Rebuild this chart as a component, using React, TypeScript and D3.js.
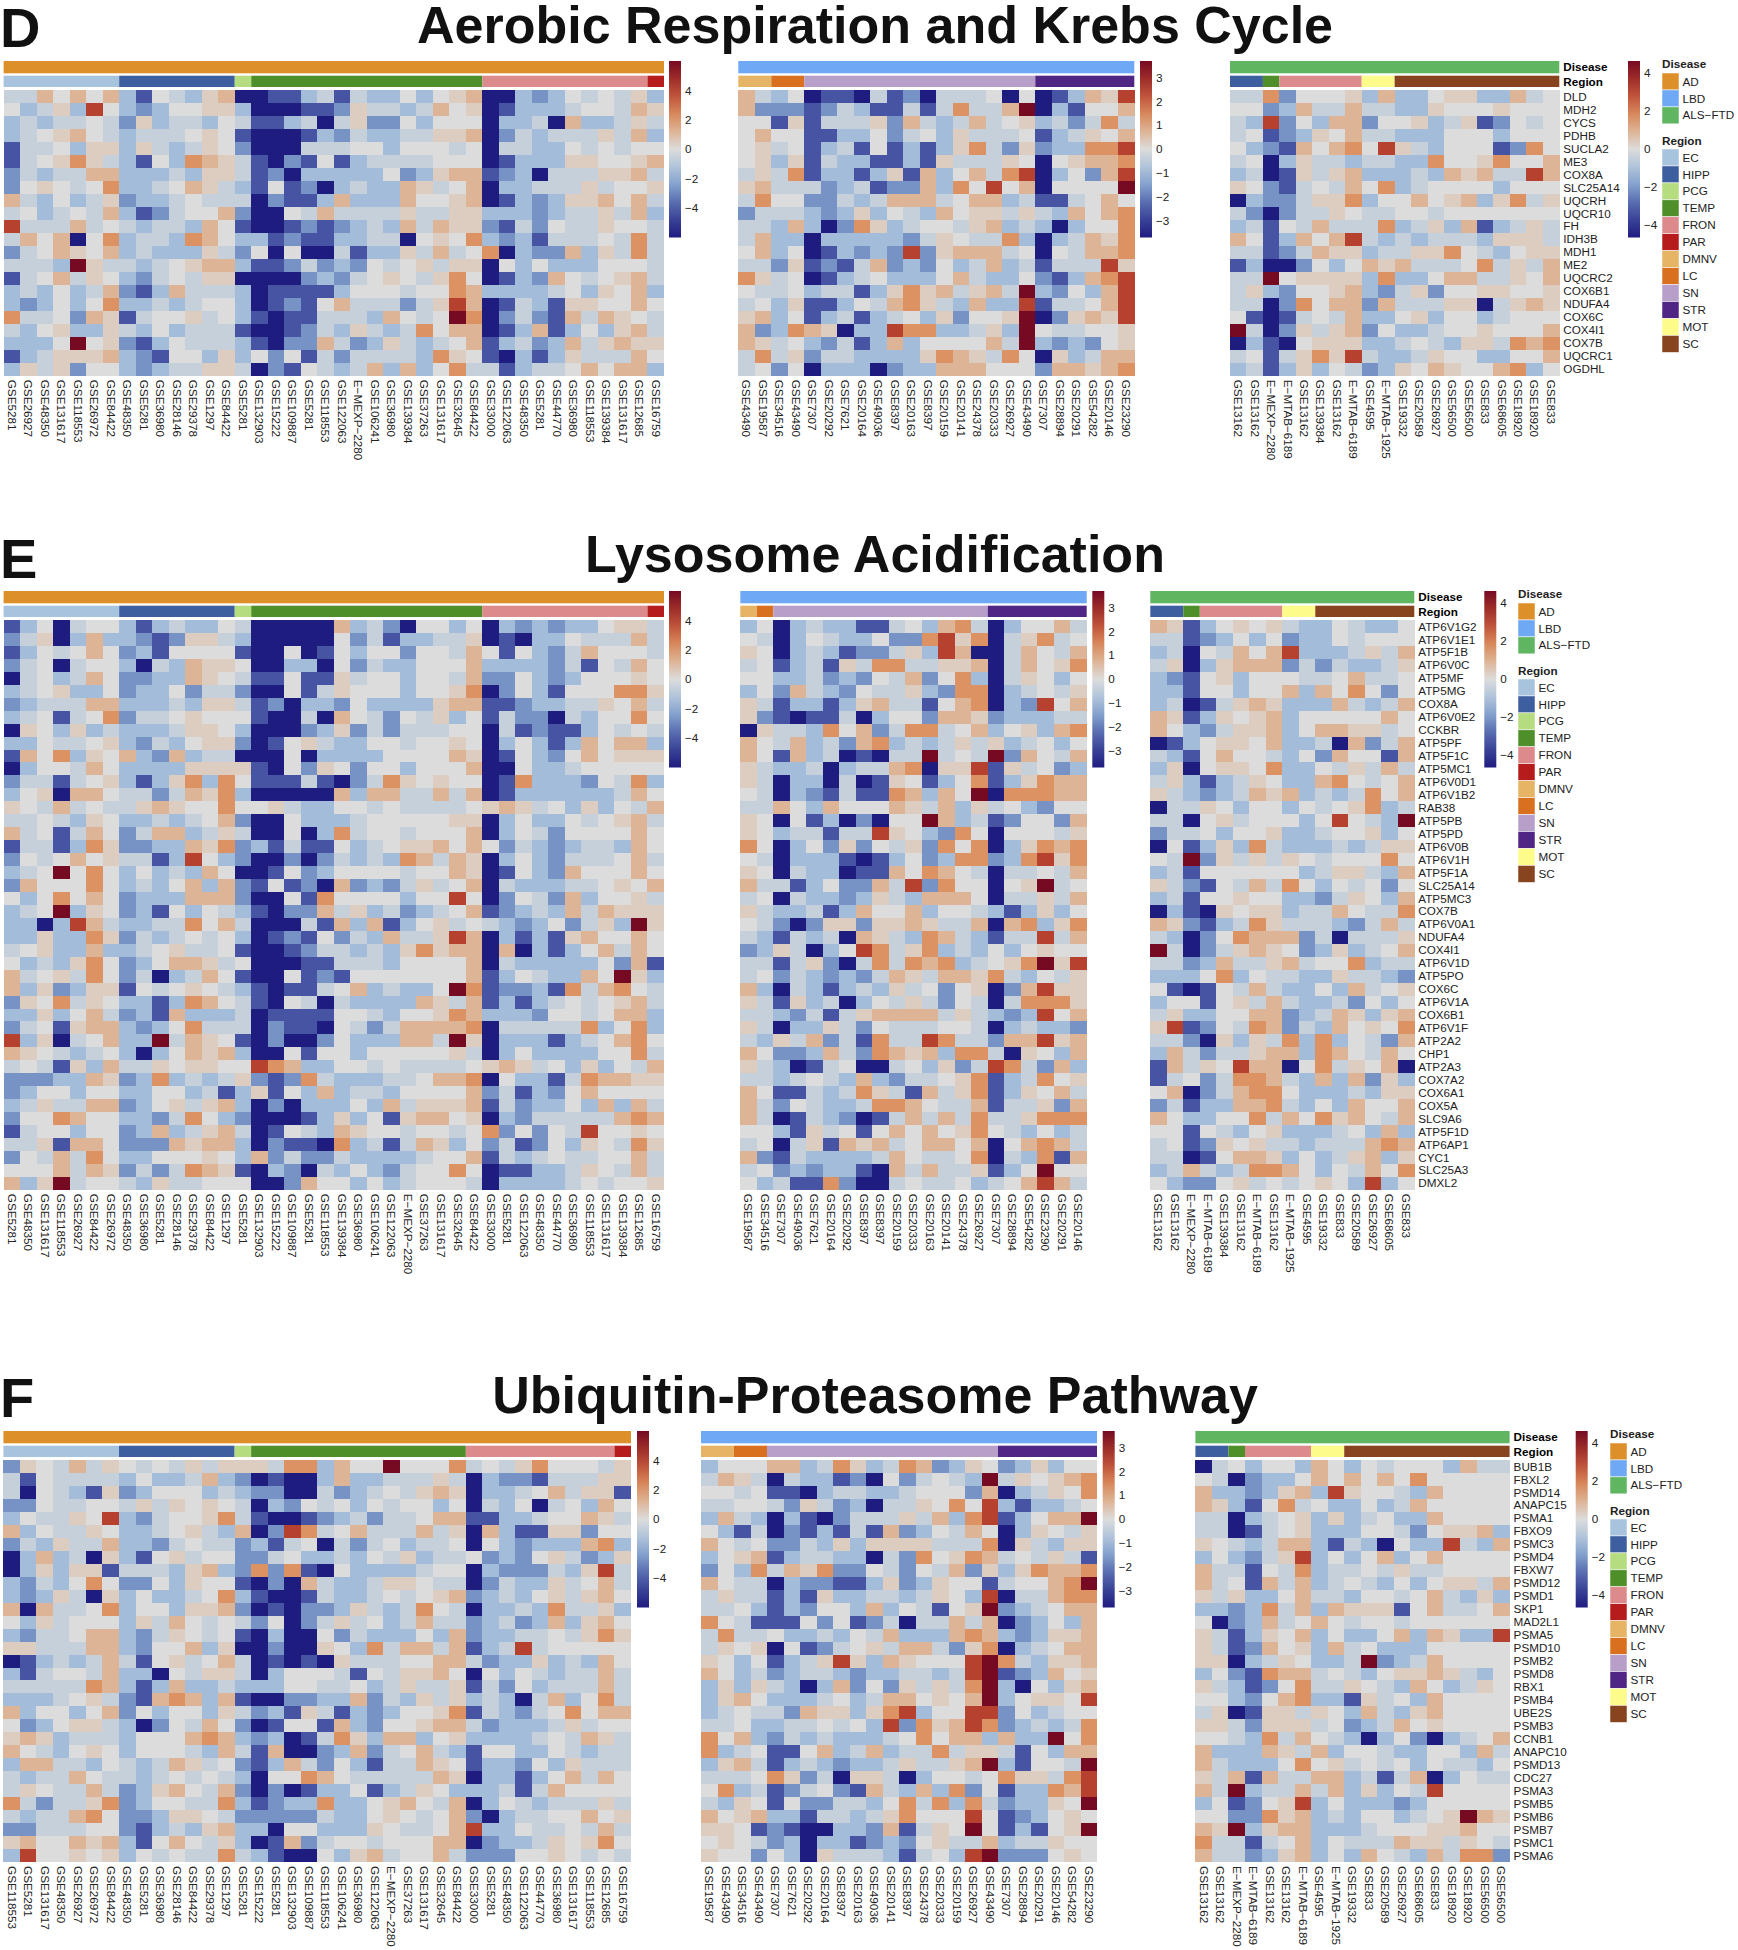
import React from "react";
import * as d3 from "d3";

// colour levels, a (deep navy) .. f (grey) .. k (dark red), as a share of the panel's max
const levelShare: Record<string, number> = { a: -1, b: -0.7, c: -0.46, d: -0.26, e: -0.1, f: 0, g: 0.08, h: 0.2, i: 0.36, j: 0.68, k: 1 };

const diseaseColors: Record<string, string> = { AD: "#dd9029", LBD: "#6fa8f5", "ALS\u2212FTD": "#5fb560" };
const regionColors: Record<string, string> = {
  EC: "#a8c3dd", HIPP: "#3d5f9f", PCG: "#b5dc7f", TEMP: "#4f8f2a", FRON: "#dd8a8c", PAR: "#b71c1c",
  DMNV: "#e5b565", LC: "#d9701f", SN: "#b79fca", STR: "#4f2683", MOT: "#fdfb8a", SC: "#87441f",
};

const genesD = ["DLD","MDH2","CYCS","PDHB","SUCLA2","ME3","COX8A","SLC25A14","UQCRH","UQCR10","FH","IDH3B","MDH1","ME2","UQCRC2","COX6B1","NDUFA4","COX6C","COX4I1","COX7B","UQCRC1","OGDHL"];
const genesE = ["ATP6V1G2","ATP6V1E1","ATP5F1B","ATP6V0C","ATP5MF","ATP5MG","COX8A","ATP6V0E2","CCKBR","ATP5PF","ATP5F1C","ATP5MC1","ATP6V0D1","ATP6V1B2","RAB38","ATP5PB","ATP5PD","ATP6V0B","ATP6V1H","ATP5F1A","SLC25A14","ATP5MC3","COX7B","ATP6V0A1","NDUFA4","COX4I1","ATP6V1D","ATP5PO","COX6C","ATP6V1A","COX6B1","ATP6V1F","ATP2A2","CHP1","ATP2A3","COX7A2","COX6A1","COX5A","SLC9A6","ATP5F1D","ATP6AP1","CYC1","SLC25A3","DMXL2"];
const genesF = ["BUB1B","FBXL2","PSMD14","ANAPC15","PSMA1","FBXO9","PSMC3","PSMD4","FBXW7","PSMD12","PSMD1","SKP1","MAD2L1","PSMA5","PSMD10","PSMB2","PSMD8","RBX1","PSMB4","UBE2S","PSMB3","CCNB1","ANAPC10","PSMD13","CDC27","PSMA3","PSMB5","PSMB6","PSMB7","PSMC1","PSMA6"];

const colsDL = "GSE5281 GSE26927 GSE48350 GSE131617 GSE118553 GSE26972 GSE84422 GSE48350 GSE5281 GSE36980 GSE28146 GSE29378 GSE1297 GSE84422 GSE5281 GSE132903 GSE15222 GSE109887 GSE5281 GSE118553 GSE122063 E\u2212MEXP\u22122280 GSE106241 GSE36980 GSE139384 GSE37263 GSE131617 GSE32645 GSE84422 GSE33000 GSE122063 GSE48350 GSE5281 GSE44770 GSE36980 GSE118553 GSE139384 GSE131617 GSE12685 GSE16759".split(" ");
const colsDM = "GSE43490 GSE19587 GSE34516 GSE43490 GSE7307 GSE20292 GSE7621 GSE20164 GSE49036 GSE8397 GSE20163 GSE8397 GSE20159 GSE20141 GSE24378 GSE20333 GSE26927 GSE43490 GSE7307 GSE28894 GSE20291 GSE54282 GSE20146 GSE23290".split(" ");
const colsDR = "GSE13162 GSE13162 E\u2212MEXP\u22122280 E\u2212MTAB\u22126189 GSE13162 GSE139384 GSE13162 E\u2212MTAB\u22126189 GSE4595 E\u2212MTAB\u22121925 GSE19332 GSE20589 GSE26927 GSE56500 GSE56500 GSE833 GSE68605 GSE18920 GSE18920 GSE833".split(" ");
const colsEL = "GSE5281 GSE48350 GSE131617 GSE118553 GSE26927 GSE84422 GSE26972 GSE48350 GSE36980 GSE5281 GSE28146 GSE29378 GSE84422 GSE1297 GSE5281 GSE132903 GSE15222 GSE109887 GSE5281 GSE118553 GSE139384 GSE36980 GSE106241 GSE122063 E\u2212MEXP\u22122280 GSE37263 GSE131617 GSE32645 GSE84422 GSE33000 GSE5281 GSE122063 GSE48350 GSE44770 GSE36980 GSE118553 GSE131617 GSE139384 GSE12685 GSE16759".split(" ");
const colsEM = "GSE19587 GSE34516 GSE7307 GSE49036 GSE7621 GSE20164 GSE20292 GSE8397 GSE8397 GSE20159 GSE20333 GSE20163 GSE20141 GSE24378 GSE26927 GSE7307 GSE28894 GSE54282 GSE23290 GSE20291 GSE20146".split(" ");
const colsER = "GSE13162 GSE13162 E\u2212MEXP\u22122280 E\u2212MTAB\u22126189 GSE139384 GSE13162 E\u2212MTAB\u22126189 GSE13162 E\u2212MTAB\u22121925 GSE4595 GSE19332 GSE833 GSE20589 GSE26927 GSE68605 GSE833".split(" ");
const colsFL = "GSE118553 GSE5281 GSE131617 GSE48350 GSE26927 GSE26972 GSE84422 GSE48350 GSE5281 GSE36980 GSE28146 GSE84422 GSE29378 GSE1297 GSE5281 GSE15222 GSE5281 GSE132903 GSE109887 GSE118553 GSE106241 GSE36980 GSE122063 E\u2212MEXP\u22122280 GSE37263 GSE131617 GSE32645 GSE84422 GSE33000 GSE5281 GSE48350 GSE122063 GSE44770 GSE36980 GSE131617 GSE118553 GSE12685 GSE16759".split(" ");
const colsFM = "GSE19587 GSE43490 GSE34516 GSE43490 GSE7307 GSE7621 GSE20292 GSE20164 GSE8397 GSE20163 GSE49036 GSE20141 GSE8397 GSE24378 GSE20333 GSE20159 GSE26927 GSE43490 GSE7307 GSE28894 GSE20291 GSE20146 GSE54282 GSE23290".split(" ");
const colsFR = "GSE13162 GSE13162 E\u2212MEXP\u22122280 E\u2212MTAB\u22126189 GSE13162 GSE13162 E\u2212MTAB\u22126189 GSE4595 E\u2212MTAB\u22121925 GSE19332 GSE833 GSE20589 GSE26927 GSE68605 GSE833 GSE18920 GSE18920 GSE56500 GSE56500".split(" ");

const runsDEL: [string, number][] = [["EC",7],["HIPP",7],["PCG",1],["TEMP",14],["FRON",10],["PAR",1]];
const runsFL: [string, number][] = [["EC",7],["HIPP",7],["PCG",1],["TEMP",13],["FRON",9],["PAR",1]];
const runsDFM: [string, number][] = [["DMNV",2],["LC",2],["SN",14],["STR",6]];
const runsEM: [string, number][] = [["DMNV",1],["LC",1],["SN",13],["STR",6]];
const runsDR: [string, number][] = [["HIPP",2],["TEMP",1],["FRON",5],["MOT",2],["SC",10]];
const runsER: [string, number][] = [["HIPP",2],["TEMP",1],["FRON",5],["MOT",2],["SC",6]];
const runsFR: [string, number][] = [["HIPP",2],["TEMP",1],["FRON",4],["MOT",2],["SC",10]];

const ticksWide = [4, 2, 0, -2, -4];
const ticksMid = [3, 2, 1, 0, -1, -2, -3];

// one string per gene, one letter per dataset; spaces only split the region groups
const cellsDL = [
"eehfhfh dbfedgh a abbdebeddfdfgh aadcdfefeg d",
"fdegdjf dcdffgg d aaabbcgeedehfg abdddeffeh g",
"dedeefe cgdeedf e bbdeaegccfdfff addeahddeg e",
"defghfe deeefgf b aaabdceddeeggh acedeeegeh d",
"beefdgg dgedegf c aaaeeeffdfffef aeeddfefef f",
"befgige dbfdihg e bacbfbdeeeefff abdddggffg h",
"cedeehh dddedgg e bcadddddfcdghh bcdaeeeggh e",
"cfgfefi ddefhge d bfbcadeddhgefh addeeegeff g",
"hedfdeg cddefee e acbbdhdddhffgh abdcdgghfh e",
"efdefeh dbceffh c aafeheeeegeegg dddcdeegeh d",
"jeeehef edeedhf b aabcbcdedhehgg cbecfeegff e",
"ehfhafi deedihf d dbcbbddeeafgfi dcdbeeefei e",
"cefhgfh dedddge c fafaaebddgehef iadcchdgei e",
"eeedkge edefghh d bbcecdcfefgegg afdfdddfff e",
"befhegf dcefegg a aaacdcefgfegif abdchfefgh e",
"dedfdeh cbdheee d abbbbdfffeffih ddddefdgfh d",
"dcdfdfi ddedeff d abcbfheeecegjh abedbggffh f",
"ieefchg beffgef d babbeeedhfefki acecbhehgf e",
"edfgddg edfdeee b aabcedgedeifhh abdhbdfdgh e",
"dddfkfg cbdfeee d bacchecdgedefh bdecdheghg g",
"bdegggh dcbffdg d fcfbeceeeedigf badbdgeeeh f",
"dgegcff dcdeegg e acbfedehdhdfie ebdeefhfhh d",
];
const cellsDM = [
"hedf abbaebcaeeefaf abdhgj",
"hccc bcedbbebeieehk adbffh",
"ffbg beeegchedehefg deceie",
"fhff bbddfcefdgeeef bdegfh",
"fgef bdebfbdbdgiecg cddiij",
"fgdg beddbbdbgeeegf afghhi",
"egei bddbdgbhdfheij adfchj",
"ghee ecdebcchdifjfh affffk",
"eiff ccedehhhefhhde bbefhf",
"ceee dcdgdfedhfggeg edhfhi",
"eedh dacigdeffeghde dadffi",
"ehdd adddddcegfeeid adehgi",
"fhdf abdcdcjcghhhef afehhi",
"eecg bcbehcdcfdehde beeejg",
"igef abdefdddfheddf cbdhij",
"feef deebdgigheghek dcfdhj",
"efdg bbdfehigedhddj beefhj",
"ghdf bdebdefdgcffgk acghgj",
"hcdi hgaddjiiddegdk feeffg",
"hgef dcebdhdffffhek dcdcfg",
"eieg ceeddddgihgeif agdehh",
"efcf adddacddhhhfff chhghi",
];
const cellsDR = [
"ee i cfffg dh ddfggddhef",
"ff c dheeh ee ddgfffgfff",
"ed j cfdhh cf fgdegbcfef",
"ef b cdgfh ee dddfffdfff",
"fd c bhfhi fj gedfffbcif",
"ef a dgeed ee ddiffgiffh",
"de a bgegh dd dedhgheejh",
"gf c befeh fi deffffdfff",
"ad c ceggi df fhfghdgieg",
"ec a ceegf ee ffefffffff",
"de b fehee ei degdhbdege",
"hf b dhfhj ed edeeedggge",
"ee b cehgg de eggifedfgg",
"bd a acfdf hg heeefiegeh",
"ee k fgggg di ddfhheegfh",
"eg d cffgh dc egcffggffg",
"ee a cifhh ch eeeggaeghg",
"fb a befeh dd fgdffdefff",
"ke a cgegh cf ddeffgfffh",
"ad b afggg dd efedggeihi",
"ef b egigj ed degffddffh",
"de b dgdfe cd gfhgffhidf",
];
const cellsEL = [
"bdfaeff dbdeddf e aaaaahdecaffdf adcdcddfgg e",
"cegadhd dcbcgge d aaaaafcebddeeg abaddfeeeh e",
"bdfefhf cdbffff b aafabfdffcffeh fbfdcehfff e",
"cefaeff daedhgg f aaddafceddfffh ddddcebfeh f",
"aefdehf ccddhgf e bbfbbgeffdffeh ccfdcdfffg f",
"defgddf cddfcee c aafbegfffdffgi acfdbfffii g",
"cdeeehh dddedgg e bcaddcfddddghh bbcddeegfh e",
"defbefi ceefgff f baaeahfecfegdf beccaedffi f",
"agfdgde dddeggf d aaacdgceceeeff aebcbbdfef e",
"ddfeefg dcedfgg c abfgeddffeffgf adfdbdhfhh d",
"bhfidgf hdchdee a aafaddddffffhg abfdcfhfgg g",
"adffehf ddddggg g bafcgfcffdfffh aafddeffff f",
"ceebefg dbdgidi f bbbebaceigfgff abidddcfei d",
"dfgahhf eecehgi d aaaaahdhheeheh abddddddeh f",
"gfehefe eghgffi f fgeddffefeeeef ghgefdgdfe h",
"eefedgf ddedefh c aafdddefffffgg adfddfefgh e",
"hefbehf cehhdeg e aafadieffefffh adfecffffh f",
"beebdig ccddhgi c dbebbfdefgghfh fcedcdeedh f",
"cfefhfg eebdjfd c aacacededihehg adfdceeefh e",
"defkfif dfdedhf a abfcdffffeffhg abfdchfffh f",
"chfffif dedfhdh c bfbcahcdcegefh aedddeefgf h",
"fdfifhf cdddhhh c aafbiffffdffjf acfechdffg e",
"defkdgf cdbfdfe d bacchegdecdefh bcdedhehgg g",
"ddadjhe ddeeifh e aaaebhdhbdfgef edcdfcegdk g",
"ddgddig cedefef d abcbfcedheegjh adbdbghffh f",
"efgddhd defgeef b aabceededgighh ahadbdfheh f",
"fdedgif cdfhhge f aaabbeeedffffh aedddddfch b",
"hefgeif ceadehf b aafbcbfffffffh bdfeddhfkg d",
"hdgcdgg bfefgfe d babbefhdeddfki bccdbiehif e",
"cgfiegf ddbdihf e bafeaeddddhgeh bdbdefefgh e",
"ddgdfhe cdbhddd e abbbbffedffgih dddcffefhh d",
"cefbghh dcdfiee e acbbafecehhhhi aeeeeeidfi d",
"jdgaefh ddkehgf b acaacfdddhhekg adddbdefhi f",
"hgfedef dadfhgh d aafbffdfffffge adfddddffi e",
"efebgdh eegfggf f jihddffefeeeef ghgefdgdfe h",
"cccddhg cdidede g cbciedddeefhhi afddbeihhg g",
"cdffdff ddffdeb d gbfdhdeedffffh cebdcfhfff f",
"degeehh cdfgegh d acadddfdhegggh becddfdhdh e",
"cffihff ddceifd c aaabdgdfbghhfg adceeeeehi h",
"beffdff cdhdegh e abfedhgffeffef icfcfejffg f",
"eegbhhf ccchghh d acbbaidebehgdf cebcfdgfei g",
"cfeheif ddfffgf d hceccedddd effh bedefeeffh e",
"fffhehg ceceihg b adcaedfdceffif abbddegfeh e",
"hdgkeff edgeeff f aachffdfdefffe addddefeff g",
];
const cellsEM = [
"df adeddbbefdhie adffhe",
"fe adfeddfccijgi aegief",
"gf adedbccegdjha aehfeh",
"ef bdebgeiieeggh aehfgi",
"ff ddecdcfehcfid aegfdf",
"df chedcfeegdcii adefeg",
"ge bddbdgheebfhi adcjfh",
"gc babbeadffchhg cdddee",
"ag eedifhceiiefh dfgdhi",
"hf ehdechidedege gdefdf",
"hf bhdeabaeekefe kchfeh",
"ge ddeadeehiaggj bgefcd",
"ge addaeabgfbdfi bdgihh",
"fe adcbebbihdhfk aiiihh",
"ee hfdhfffhgehdg efdcff",
"gf afbdacaffkhde bcffch",
"gf deebeejgfdcif afffeg",
"if adfcgcfegcifi adgihi",
"fe adddbabdfcdii cdijgi",
"gf aeddabbhfihfe aeefeh",
"he ebdfcchejciff afgkef",
"ef aeddcdgedhhhf aeegeh",
"ge ddebdhffhdffe dbdgdf",
"fe cacggcgghgeeh ahidgi",
"ed bedeahgedihed beejeh",
"cd geadfjiegided fdfgff",
"ee begcaeieihide fgikgj",
"ef cedcdcehgehhg iedfeg",
"hd aedbdedgefcfg achjgg",
"ge bgdeadfegecfe aeiiig",
"ee dcebeghhhhege dcdjfh",
"ge addgecfeeeffe adeddc",
"ed gehcebieejiee chhjgh",
"hf ccdhecihghdii eagfdh",
"ge dabefaaefdgce jiechd",
"ee defedhdceefgi bdeifg",
"hf bbedeigebhegi bdgfhe",
"he cfeddeiihfeeh beegch",
"he abedcabehehei eegiii",
"ff dbgefbfhfhfgi fedfde",
"ef aegbhghefhhfh afhihe",
"hc beddddehfeefi aedibh",
"ef cdcddbaheheeg bdfkff",
"fd ebbicaaefeefd efhjhe",
];
const cellsER = [
"hg b dfgfg ed dfeddf",
"ee b cdfdf cd dfefff",
"de a fehfh jd ddegeh",
"eg a dghhh ce ceddeg",
"dc b fgdff fe efheef",
"dd b ffdff hd hfifcf",
"de a begh g dd dhedeh",
"hg b dgfgh df ffffhf",
"hf d ceggh df hhggef",
"ab d fggfh dd eahceh",
"ed b fhffe df chffbh",
"dg a fggfi dd fegehe",
"eg d bdegf dd hifefh",
"ge d cdehg hd edeifh",
"ae e gfdff df efgide",
"ee a fgeff fd fjfedk",
"ce e fdffg dd effgdf",
"af b dgdie dd dedegg",
"fe k cgege gf efffif",
"de b fffff fd eggedh",
"ge c bfehe if dfefcf",
"de b ffgff dd cegfdh",
"ad b agfgg de ehfeei",
"hg c bdeig ee edcehe",
"ed a cfihh hc eaeeeg",
"ke a ceghg fc dgdefh",
"ee c dheeg he ffidee",
"dd d fidfe ed dgeedc",
"fb a bfehe dd fdhefg",
"df f bfgeh ed decfdf",
"eg d dffhh cd ehgdgh",
"gj b cfeih ce dhfgfi",
"ee c agdge id idfech",
"dh e ceegh hd ihfehf",
"bh e gfjhh af iegfha",
"be f ceiih ed hdhcgd",
"fh a cehii fd ddedgg",
"ce b ddhhi ed fdhffh",
"hf d dffie hf ighfeh",
"ff b fedfg dd defdhd",
"ef b cgfge ed eeehih",
"ee a bfhhg df deghdg",
"de h edeii hf dfehfi",
"fd c cfgef ef gfdjdf",
];
const cellsFL = [
"cgfeheg fefegeg g geiidhffkfffi efegifffe g",
"ebfeeee dfddehd c abaadhddeeege adccbeeeg g",
"eafedbg cdfffde d ccaaecdefeghg addefhegg b",
"ccfeeff egegfgf e adcfefdfeffdf aedfaefdh f",
"dfeegfj dceffgi e baabcdeceefhh bbddeffhg e",
"hdfeegf ddefged h acjiefheeeheg ahdbbggcf f",
"cedgeeh ddcefee c dbefaecefdeef afdcdddhi d",
"adhdeag dbfgeff c cefddedfegdee fcdcfgecd g",
"adgdggb eeedghd c icibafddddeff adcccedgj e",
"dcedfif ccfdgff b acaheddeggfee aceddgefh e",
"dcdgeag dfddefi d baabeddefefgh cdedfgegh f",
"haheefi dffdggh c abaccdgedeife addedieeg d",
"fdgefff dgehfef e cfacegefdehee cdecdhdgh f",
"dceefhh dcegfef b adaafcedddfdh cddeefegi g",
"ggeeehh dcffhdg a acaagfdiehheh bdejeffff f",
"abdedeh ebfgefh e ababageeeffhh ecddgdedh f",
"dbeffeh ddafegg e adfffebfegghf afdfedeeh e",
"eeeeeih dbdhdde d ddffeefdegeeg becfdeeeh e",
"dddefge cbhihdh b aaccddhcedgeg dedaehdfi e",
"hdffdfh cfdffdg e cdbgebdcdffgi bedcefifh h",
"fcdfgge dacfehf c abffbhdcffghh ecdddegef f",
"ghgdeee dfffhih d cdabeigdhhdfg ddddefehg e",
"hfedfgf dfffedh e bhaacdhcefhed bffddfede e",
"dhheedf edehgef c bdhecfdbeehgf bddcfdgee e",
"edeehfe edefefe d affihfeeeeehg addbdfheh f",
"egfeehe cdghfeh c acabddfbdegfd ddebehfff f",
"ieceegi cdffeei d bcddiddfghfeh adfedeeeg e",
"edeehif ccdggfe c cccceddfgfefh cadeeffhf g",
"cceeeff cbdedgh d daffdddgfeefh jddfeefeh e",
"ghffhgh dbfhfeg d abhceffefffhh acddegfgi f",
"djffgfg dfefeei e dbaafdgheffhe cccffgfef e",
];
const cellsFM = [
"dfff hhdeigdeihcdgf cdgdff",
"ehge aeddbcafcefedk egfghi",
"ffef bbadeeddefffch adegfi",
"eeff ecgecdaeegfifj dbddef",
"dhed adbaceeegehdij bdfhhk",
"fdbe acbdbebhcdfehf adgfeg",
"hfef ccedgdggggeeei agedgg",
"dfgh bdeeddaecifgih efegeb",
"cfdi ehgiccfecfehcg dgihhi",
"hfee adccbbdgcdgffb effhik",
"egee bdbgddeedegfdj aeehii",
"eefd bdcffdhdfebfgk cdefhh",
"ifeb bbfcfbceaeeheh acdfdh",
"eiee fddedfehdddhih dcdggh",
"egfg afbcefgehhecgi adefhh",
"gfdf bdegjgdhgfffjk iedggh",
"hfde cdeedcddeedejk bcdhfg",
"dgdg edadhcfcgegeik dafdgh",
"dghf dddefdehhfgfhk dfggfj",
"defe echggdgijdffjj cfdeff",
"eefd deefefdjcighji cdedei",
"ifhd cededddefifhhd hddkfi",
"idef bbfhdehdeeiegg ebfdhh",
"dghe bdedcddegeeghk dbffek",
"eeef igceaggeadffef iggeij",
"fide bcefcbhedhdicf bddihj",
"edgf bfcceedfieidie cddgfk",
"hfgh ddbeedegifffjf bcdfgf",
"ggfb cbaaddchbegfkf bdbfgk",
"fgfe cdaddbcdcfgeeh deegff",
"gffc fdageeedbefdjk cccfgf",
];
const cellsFR = [
"ae f dffd hf dfefffdhee",
"fe a cddf hf hfhfifffff",
"hd d cdgh dj gffedhffff",
"hg d bfie fd dfdehfffff",
"ee a defg dg defddhffff",
"ee a befg dd dffecfgghd",
"gf e dehh db edafddjedh",
"df d cegj df dfhdfhffff",
"he e bfei de efegeeffff",
"he f bheh de fedfdfggeh",
"ge g ddfh ee dffefhedgd",
"dd c dieh dh gggbfheefh",
"fa c dhef hf effeffffff",
"ge b dgfh df ddfhdhgddj",
"ge b chfg dh efdddfffff",
"gg a degf dd ekcdehffff",
"df c bihh ef edfgghgedf",
"ge d bcfi ee gfedhfdegf",
"ff d cfhi dd bgefdhffff",
"eg a bgge gf dhedghffff",
"gg e cggg ef cdehfgffff",
"ff e dieh fe dadfcadefh",
"hd d dhge hd ffeddffdhe",
"he d ddfi fg efefdfeedf",
"ge h bhee hh debehadfee",
"he k deeh eh dgdfejffff",
"df b cfgj df dddcdfffff",
"ff c cigh de dffdefgkhg",
"hg k dghh dd defffgghff",
"ie e befh df eeehggegfe",
"he e cdgh df dhfedheiic",
];

type HeatProps = {
  rows: string[]; cols: string[]; runs: [string, number][]; disease: string;
  left: number; right: number; top: number; rowPx: number; maxValue: number; ticks: number[];
  barLeft: number; genes?: string[]; id: string;
};

const BAR_HEIGHT = 176.5;

const colorOf = d3.scaleLinear<string>()
  .domain([-1, -0.67, -0.33, 0, 0.33, 0.67, 1])
  .range(["#1f1c80", "#4a5aa6", "#93b4d8", "#dcdcdc", "#e09a68", "#b8432f", "#760a22"]);

const Heatmap = ({ rows, cols, runs, disease, left, right, top, rowPx, maxValue, ticks, barLeft, genes, id }: HeatProps) => {
  const heatTop = top + 29;
  const x = d3.scaleBand<number>().domain(d3.range(cols.length)).range([left, right]);
  const y = d3.scaleBand<number>().domain(d3.range(rows.length)).range([heatTop, heatTop + rowPx * rows.length]);
  const barY = d3.scaleLinear().domain([maxValue, -maxValue]).range([top, top + BAR_HEIGHT]);

  let start = 0;
  const strips = runs.map(([name, n]) => {
    const r = { name, x0: x(start)!, x1: x(start + n - 1)! + x.bandwidth() };
    start += n;
    return r;
  });

  return (
    <g>
      <rect x={left} y={top} width={right - left} height={12.3} fill={diseaseColors[disease]} />
      {strips.map((s, i) => (
        <rect key={i} x={s.x0} y={top + 14.7} width={s.x1 - s.x0} height={11.3} fill={regionColors[s.name]} />
      ))}
      <g shapeRendering="crispEdges">
        {rows.map((row, r) => {
          const codes = row.replace(/[^a-k]/g, "");
          return cols.map((_, c) => {
            const value = (levelShare[codes[c] ?? "f"] ?? 0) * maxValue;
            return <rect key={r + "-" + c} x={x(c)} y={y(r)} width={x.bandwidth() + 0.4} height={y.bandwidth() + 0.4} fill={colorOf(value / maxValue)} />;
          });
        })}
      </g>
      {cols.map((name, c) => (
        <text key={c} transform={`translate(${x(c)! + x.bandwidth() / 2},${heatTop + rowPx * rows.length + 4}) rotate(90)`} dy="0.35em" fontSize={11.7} fill="#222">{name}</text>
      ))}
      {genes && genes.map((g, r) => (
        <text key={g} x={right + 4} y={y(r)! + y.bandwidth() / 2} dy="0.35em" fontSize={11.7} fill="#222">{g}</text>
      ))}
      {genes && <text x={right + 4} y={top + 6.3} dy="0.35em" fontSize={11.7} fontWeight="bold">Disease</text>}
      {genes && <text x={right + 4} y={top + 20.7} dy="0.35em" fontSize={11.7} fontWeight="bold">Region</text>}
      <defs>
        <linearGradient id={id} x1="0" y1="0" x2="0" y2="1">
          {d3.range(0, 1.001, 0.1).map(t => (
            <stop key={t} offset={t} stopColor={colorOf(1 - 2 * t)} />
          ))}
        </linearGradient>
      </defs>
      <rect x={barLeft} y={top} width={12} height={BAR_HEIGHT} fill={`url(#${id})`} />
      {ticks.map(t => (
        <text key={t} x={barLeft + 16} y={barY(t)} dy="0.35em" fontSize={11.7} fill="#222">{t < 0 ? "\u2212" + Math.abs(t) : t}</text>
      ))}
    </g>
  );
};

const Legend = ({ x, y }: { x: number; y: number }) => {
  const diseases = Object.keys(diseaseColors);
  const regions = Object.keys(regionColors);
  const step = 16.95;
  return (
    <g fontSize={11.7} fill="#222">
      <text x={x} y={y + 4} dy="0.35em" fontWeight="bold">Disease</text>
      {diseases.map((d, i) => (
        <g key={d}>
          <rect x={x} y={y + 13 + i * step} width={17} height={step} fill={diseaseColors[d]} stroke="#fff" strokeWidth={0.5} />
          <text x={x + 20.5} y={y + 13 + i * step + step / 2} dy="0.35em">{d}</text>
        </g>
      ))}
      <text x={x} y={y + 80.5} dy="0.35em" fontWeight="bold">Region</text>
      {regions.map((d, i) => (
        <g key={d}>
          <rect x={x} y={y + 89 + i * step} width={17} height={step} fill={regionColors[d]} stroke="#fff" strokeWidth={0.5} />
          <text x={x + 20.5} y={y + 89 + i * step + step / 2} dy="0.35em">{d}</text>
        </g>
      ))}
    </g>
  );
};

const titles = [
  { letter: "D", text: "Aerobic Respiration and Krebs Cycle", y: 42.5, letterY: 46.5 },
  { letter: "E", text: "Lysosome Acidification", y: 572, letterY: 578 },
  { letter: "F", text: "Ubiquitin-Proteasome Pathway", y: 1413, letterY: 1417 },
];

export default function App() {
  return (
    <svg width={1738} height={1950} style={{ position: "absolute", left: 0, top: 0, background: "#fff" }} fontFamily="'Liberation Sans', Arial, sans-serif">
      {titles.map(t => (
        <g key={t.letter}>
          <text x={0} y={t.letterY} fontSize={56} fontWeight="bold" fill="#111">{t.letter}</text>
          <text x={875} y={t.y} fontSize={52} fontWeight="bold" textAnchor="middle" fill="#111">{t.text}</text>
        </g>
      ))}

      <Heatmap id="dl" rows={cellsDL} cols={colsDL} runs={runsDEL} disease="AD" left={3.6} right={664} top={61} rowPx={12.99} maxValue={6} ticks={ticksWide} barLeft={669} />
      <Heatmap id="dm" rows={cellsDM} cols={colsDM} runs={runsDFM} disease="LBD" left={738.3} right={1134.3} top={61} rowPx={12.99} maxValue={3.7} ticks={ticksMid} barLeft={1140} />
      <Heatmap id="dr" rows={cellsDR} cols={colsDR} runs={runsDR} disease={"ALS\u2212FTD"} left={1230} right={1559.3} top={61} rowPx={12.99} maxValue={4.65} ticks={ticksWide} barLeft={1628} genes={genesD} />
      <Legend x={1662} y={60} />

      <Heatmap id="el" rows={cellsEL} cols={colsEL} runs={runsDEL} disease="AD" left={3.6} right={664} top={591} rowPx={12.95} maxValue={6} ticks={ticksWide} barLeft={669} />
      <Heatmap id="em" rows={cellsEM} cols={colsEM} runs={runsEM} disease="LBD" left={740.3} right={1086.7} top={591} rowPx={12.95} maxValue={3.7} ticks={ticksMid} barLeft={1092.3} />
      <Heatmap id="er" rows={cellsER} cols={colsER} runs={runsER} disease={"ALS\u2212FTD"} left={1150.3} right={1414.3} top={591} rowPx={12.95} maxValue={4.65} ticks={ticksWide} barLeft={1484.3} genes={genesE} />
      <Legend x={1518} y={590} />

      <Heatmap id="fl" rows={cellsFL} cols={colsFL} runs={runsFL} disease="AD" left={3.4} right={631} top={1431} rowPx={12.97} maxValue={6} ticks={ticksWide} barLeft={637} />
      <Heatmap id="fm" rows={cellsFM} cols={colsFM} runs={runsDFM} disease="LBD" left={701} right={1097} top={1431} rowPx={12.97} maxValue={3.7} ticks={ticksMid} barLeft={1102.7} />
      <Heatmap id="fr" rows={cellsFR} cols={colsFR} runs={runsFR} disease={"ALS\u2212FTD"} left={1195.4} right={1509.6} top={1431} rowPx={12.97} maxValue={4.65} ticks={ticksWide} barLeft={1575.7} genes={genesF} />
      <Legend x={1610} y={1430} />
    </svg>
  );
}
